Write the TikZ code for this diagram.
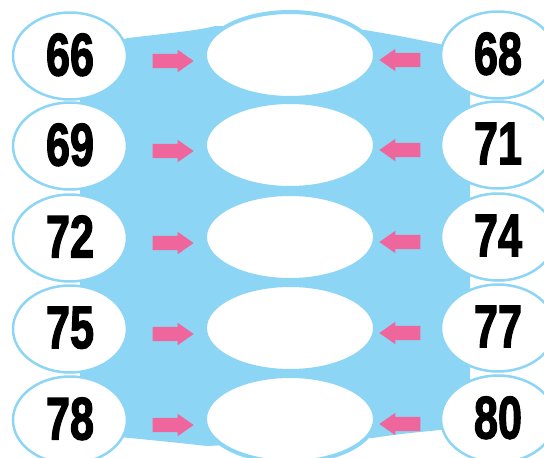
\documentclass[tikz,border=0pt]{standalone}
\usepackage{fontspec}
\setmainfont{Liberation Sans}
\newfontfamily\numfont{Liberation Sans}[BoldFeatures={FakeBold=2.5}]
\usepackage{graphicx}
\usetikzlibrary{shapes.geometric}
\usetikzlibrary{shapes.arrows}
\definecolor{skyblue}{RGB}{141,213,245}
\definecolor{pinkarr}{RGB}{238,102,156}

\tikzset{
  numoval/.style={ellipse, draw=skyblue, line width=2.5pt, fill=white, inner sep=0pt,
    minimum width=114pt, minimum height=87pt, font=\fontsize{60}{60}\numfont\bfseries},
  blankoval/.style={ellipse, draw=skyblue, line width=4pt, fill=white,
    minimum width=170pt, minimum height=86pt},
  pinkarrow/.style={single arrow, fill=pinkarr, inner xsep=0pt, inner ysep=7pt,
    minimum height=41pt, single arrow head extend=4pt, single arrow tip angle=70}
}
\newcommand{\num}[1]{\raisebox{3pt}{\scalebox{0.72}[1]{#1}}}

\begin{document}
\begin{tikzpicture}[x=1pt, y=-1pt]
    \useasboundingbox (0,0) rectangle (544,458);
    \clip (0,0) rectangle (544,458);

    % blue background
    \fill[skyblue] (80,50) -- (128,38) .. controls (180,32) and (200,30) .. (215,26)
      -- (365,30) .. controls (400,36) .. (440,44) -- (470,50) -- (470,428)
      -- (440,430) .. controls (400,434) .. (372,438) -- (207,446)
      .. controls (180,443) .. (120,437) -- (80,430) -- cycle;

    \foreach \y/\a/\b [count=\i] in {53/66/68, 143/69/71, 235/72/74, 326/75/77, 417/78/80} {
      \node[blankoval] (m\i) at (290,\y+2) {};
      \node[numoval] (l\i) at (70,\y+3) {\num{\a}};
      \node[numoval] (r\i) at (498,\y+2) {\num{\b}};
      \node[pinkarrow] (al\i) at (168,\y+8) {};
      \node[pinkarrow, shape border rotate=180] (ar\i) at (405,\y+7) {};
    }
\end{tikzpicture}
\end{document}
